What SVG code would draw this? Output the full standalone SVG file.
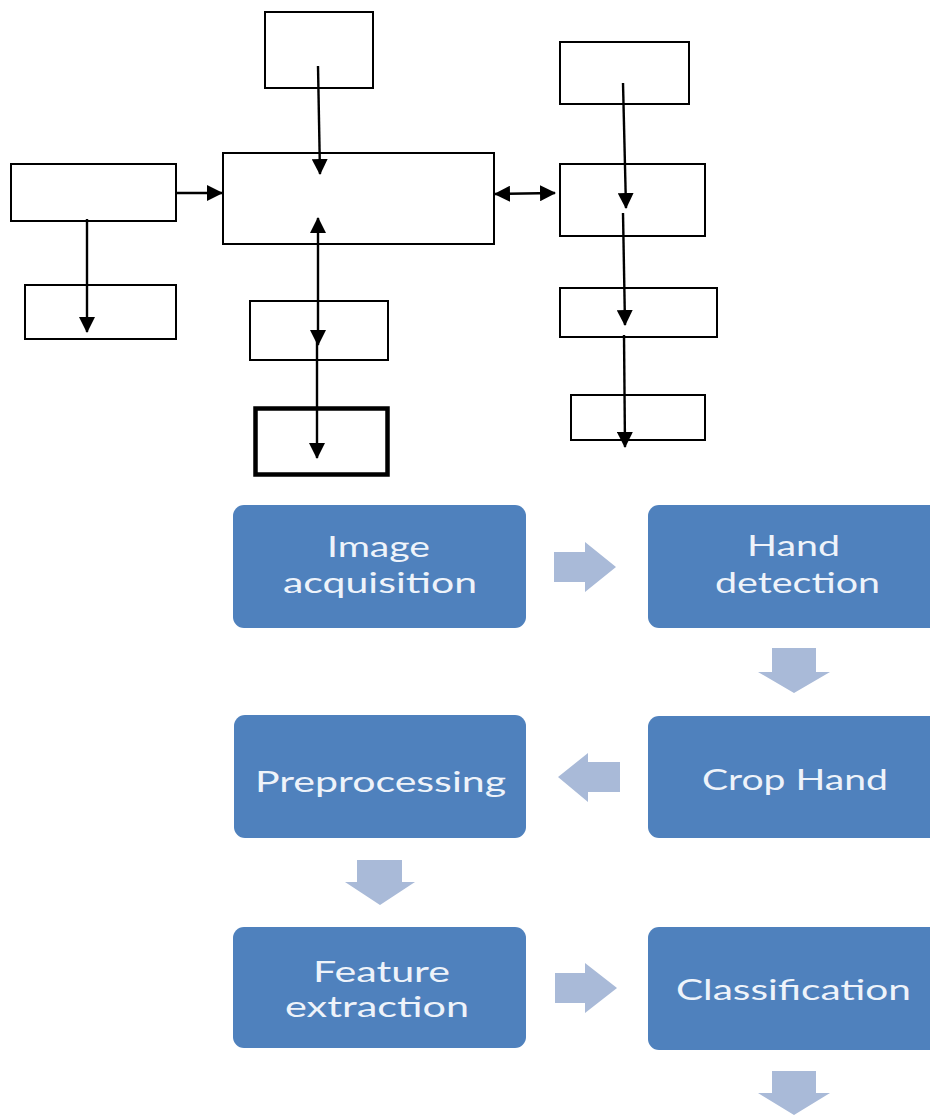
<svg xmlns="http://www.w3.org/2000/svg" width="930" height="1115" viewBox="0 0 930 1115">
  <style>
    .box { fill: #ffffff; stroke: #000000; stroke-width: 2; }
    .thick { fill: #ffffff; stroke: #000000; stroke-width: 4.5; }
    .conn { fill: none; stroke: #000000; stroke-width: 2.4; }
    .blue { fill: #4F81BD; }
    .barrow { fill: #A9BAD8; }
    .lbl { font-family: Lato, "Open Sans", "Liberation Sans", sans-serif; font-size: 29px; fill: #EEF3FA; text-anchor: middle; }
  </style>
  <defs>
    <marker id="ah" viewBox="0 0 16 16" refX="15" refY="8" markerWidth="16" markerHeight="16" markerUnits="userSpaceOnUse" orient="auto-start-reverse">
      <path d="M0,0 L16,8 L0,16 z" fill="#000000"/>
    </marker>
  </defs>
  <rect width="930" height="1115" fill="#ffffff"/>

  <!-- Upper block diagram (unlabelled boxes) -->
  <g id="top-box"><rect class="box" x="265" y="12" width="108" height="76"/></g>
  <g id="left-box"><rect class="box" x="11" y="164" width="165" height="57"/></g>
  <g id="main-box"><rect class="box" x="223" y="153" width="271" height="91"/></g>
  <g id="left-bottom-box"><rect class="box" x="25" y="285" width="151" height="54"/></g>
  <g id="mid-box-1"><rect class="box" x="250" y="301" width="138" height="59"/></g>
  <g id="mid-box-2"><rect class="thick" x="255.5" y="408.5" width="132" height="66"/></g>
  <g id="right-box-1"><rect class="box" x="560" y="42" width="129" height="62"/></g>
  <g id="right-box-2"><rect class="box" x="560" y="164" width="145" height="72"/></g>
  <g id="right-box-3"><rect class="box" x="560" y="288" width="157" height="49"/></g>
  <g id="right-box-4"><rect class="box" x="571" y="395" width="134" height="45"/></g>

  <g id="connectors">
    <path class="conn" d="M318,66 L320,174" marker-end="url(#ah)"/>
    <path class="conn" d="M176,193 L222,193" marker-end="url(#ah)"/>
    <path class="conn" d="M87,219 L87,332" marker-end="url(#ah)"/>
    <path class="conn" d="M318,345 L318,218" marker-start="url(#ah)" marker-end="url(#ah)"/>
    <path class="conn" d="M317,335 L317,458" marker-end="url(#ah)"/>
    <path class="conn" d="M495,194 L555,193" marker-start="url(#ah)" marker-end="url(#ah)"/>
    <path class="conn" d="M623,83 L626,208" marker-end="url(#ah)"/>
    <path class="conn" d="M623,213 L625,325" marker-end="url(#ah)"/>
    <path class="conn" d="M624,335 L625,447" marker-end="url(#ah)"/>
  </g>

  <!-- Lower process flow -->
  <g id="image-acquisition">
    <rect class="blue" x="233" y="505" width="293" height="123" rx="11"/>
    <text class="lbl" x="378.5" y="557" textLength="103" lengthAdjust="spacingAndGlyphs">Image</text>
    <text class="lbl" x="380" y="593" textLength="194" lengthAdjust="spacingAndGlyphs">acquisition</text>
  </g>
  <g id="hand-detection">
    <rect class="blue" x="648" y="505" width="295" height="123" rx="11"/>
    <text class="lbl" x="793.5" y="556" textLength="93" lengthAdjust="spacingAndGlyphs">Hand</text>
    <text class="lbl" x="797.5" y="593" textLength="165" lengthAdjust="spacingAndGlyphs">detection</text>
  </g>
  <g id="crop-hand">
    <rect class="blue" x="648" y="716" width="295" height="122" rx="11"/>
    <text class="lbl" x="795" y="790" textLength="186" lengthAdjust="spacingAndGlyphs">Crop Hand</text>
  </g>
  <g id="preprocessing">
    <rect class="blue" x="234" y="715" width="292" height="123" rx="11"/>
    <text class="lbl" x="380.5" y="792" textLength="251" lengthAdjust="spacingAndGlyphs">Preprocessing</text>
  </g>
  <g id="feature-extraction">
    <rect class="blue" x="233" y="927" width="293" height="121" rx="11"/>
    <text class="lbl" x="381.5" y="982" textLength="137" lengthAdjust="spacingAndGlyphs">Feature</text>
    <text class="lbl" x="377" y="1017" textLength="184" lengthAdjust="spacingAndGlyphs">extraction</text>
  </g>
  <g id="classification">
    <rect class="blue" x="648" y="927" width="295" height="123" rx="11"/>
    <text class="lbl" x="793.5" y="1000" textLength="235" lengthAdjust="spacingAndGlyphs">Classification</text>
  </g>

  <g id="flow-arrows">
    <polygon class="barrow" points="554,552 585,552 585,542 616,567 585,592 585,582 554,582"/>
    <polygon class="barrow" points="772,648 816,648 816,672 830,672 794,693 758,672 772,672"/>
    <polygon class="barrow" points="620,762 588,762 588,753 558,777 588,802 588,792 620,792"/>
    <polygon class="barrow" points="357,860 402,860 402,882 415,882 380,905 345,882 357,882"/>
    <polygon class="barrow" points="555,973 585,973 585,963 617,988 585,1013 585,1003 555,1003"/>
    <polygon class="barrow" points="772,1071 816,1071 816,1093 830,1093 794,1115 758,1093 772,1093"/>
  </g>
</svg>
